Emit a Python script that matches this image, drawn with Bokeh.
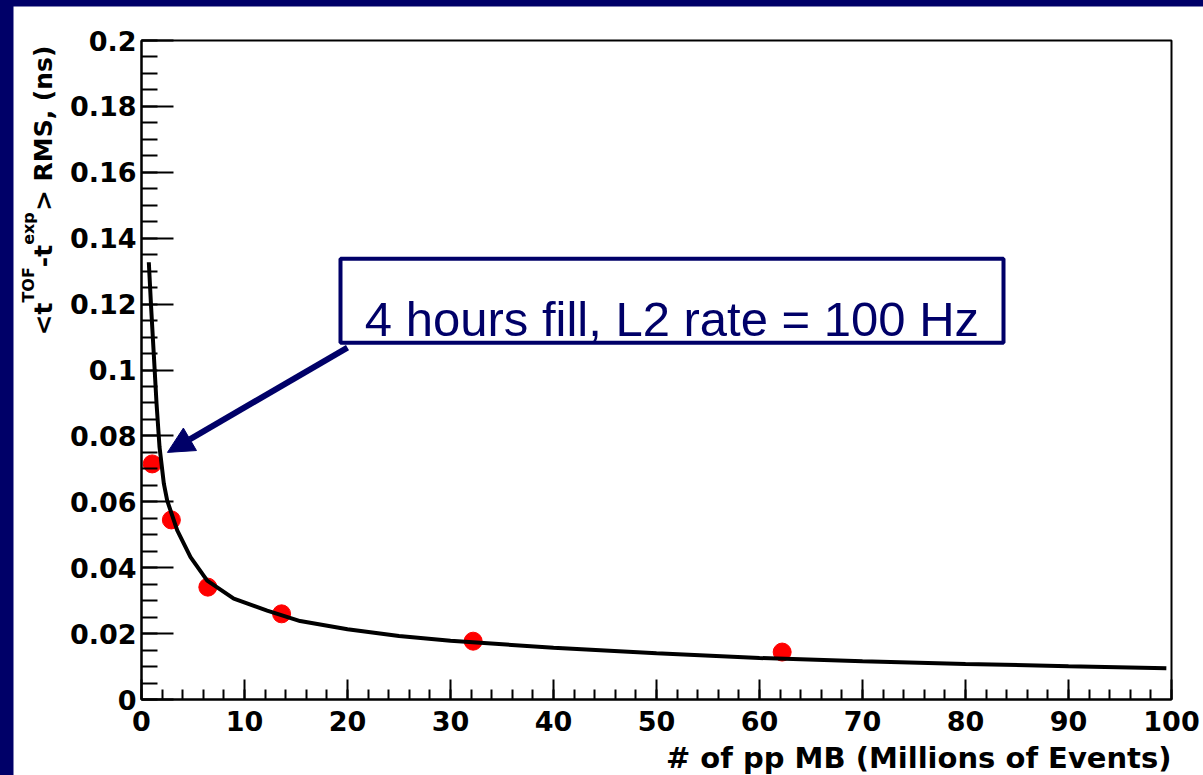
import math
from bokeh.plotting import figure
from bokeh.models import (Range1d, FixedTicker, Label, BoxAnnotation, Arrow,
                          NormalHead, GlobalInlineStyleSheet)
from bokeh.embed import file_html
from bokeh.resources import INLINE

# ---------------- data ----------------
points_x = [1.04, 2.9, 6.44, 13.6, 32.2, 62.2]
points_y = [0.0715, 0.0545, 0.0341, 0.0260, 0.0177, 0.0144]

curve_x = [0.71, 0.94, 1.19, 1.46, 1.75, 2.17, 2.49, 3.47, 4.76, 6.38, 8.96,
           12.2, 15.4, 20, 25, 30, 40, 50, 60, 70, 80, 90, 99.5]
curve_y = [0.1327, 0.1187, 0.105, 0.0898, 0.0766, 0.0655, 0.0604, 0.0513,
           0.0432, 0.0361, 0.0306, 0.0270, 0.0238, 0.0213, 0.0193, 0.0178,
           0.0157, 0.0140, 0.0126, 0.0116, 0.0108, 0.0101, 0.0095]

x_ticks = [0, 10, 20, 30, 40, 50, 60, 70, 80, 90, 100]
x_tick_labels = ["0", "10", "20", "30", "40", "50", "60", "70", "80", "90", "100"]
y_ticks = [0, 0.02, 0.04, 0.06, 0.08, 0.1, 0.12, 0.14, 0.16, 0.18, 0.2]
y_tick_labels = ["0", "0.02", "0.04", "0.06", "0.08", "0.1", "0.12", "0.14",
                 "0.16", "0.18", "0.2"]

x_title = "# of pp MB (Millions of Events)"
y_title_parts = ["<t", "TOF", "-t", "exp", "> RMS, (ns)"]
y_title_is_sup = [False, True, False, True, False]
annotation_text = "4 hours fill, L2 rate = 100 Hz"

X_MIN, X_MAX = 0, 100
Y_MIN, Y_MAX = 0, 0.2

NAVY = "#000068"
FONT = "DejaVu Sans"

# pixel geometry of the canvas (1190 x 769 placed at 13,6 on the page)
PX_PER_X = 10.3
PX_PER_Y = 3295.0
FRAME_LEFT_PX = 128      # x = 0 from canvas left
FRAME_BOTTOM_PX = 76     # y = 0 from canvas bottom
W, H = 1190, 769

x_lo = X_MIN - FRAME_LEFT_PX / PX_PER_X
x_hi = x_lo + W / PX_PER_X
y_lo = Y_MIN - FRAME_BOTTOM_PX / PX_PER_Y
y_hi = y_lo + H / PX_PER_Y

# ---------------- figure ----------------
p = figure(width=W, height=H, output_backend="svg", toolbar_location=None,
           x_range=Range1d(x_lo, x_hi), y_range=Range1d(y_lo, y_hi),
           min_border=0)
p.stylesheets = [GlobalInlineStyleSheet(css="html, body { background-color: %s; }" % NAVY)]
p.styles = {"margin-left": "13px", "margin-top": "6px"}
p.background_fill_color = "white"
p.border_fill_color = "white"
p.grid.visible = False
p.outline_line_color = None

xa = p.xaxis[0]
ya = p.yaxis[0]
xa.fixed_location = Y_MIN
ya.fixed_location = X_MIN
xa.bounds = (X_MIN, X_MAX)
ya.bounds = (Y_MIN, Y_MAX)
xa.ticker = FixedTicker(ticks=x_ticks, minor_ticks=[i * 2 for i in range(51)])
ya.ticker = FixedTicker(ticks=y_ticks, minor_ticks=[i * 0.005 for i in range(41)])
xa.major_label_overrides = dict(zip(x_ticks, x_tick_labels))
ya.major_label_overrides = dict(zip(y_ticks, y_tick_labels))

for ax in (xa, ya):
    ax.axis_line_color = "black"
    ax.axis_line_width = 2
    ax.major_tick_line_color = "black"
    ax.minor_tick_line_color = "black"
    ax.major_tick_line_width = 2
    ax.minor_tick_line_width = 2
    ax.major_tick_out = 0
    ax.minor_tick_out = 0
    ax.major_label_text_font = FONT
    ax.major_label_text_font_style = "bold"
    ax.major_label_text_font_size = "27px"
    ax.major_label_text_color = "black"

xa.major_tick_in = 20
xa.minor_tick_in = 10
xa.major_label_standoff = 11
ya.major_tick_in = 32
ya.minor_tick_in = 16
ya.major_label_standoff = 5

# frame box (top and right sides; left/bottom coincide with the axes)
p.add_layout(BoxAnnotation(left=X_MIN, right=X_MAX, bottom=Y_MIN, top=Y_MAX,
                           fill_alpha=0.0, line_color="black", line_width=2,
                           line_alpha=1.0))

# ---------------- data marks ----------------
p.scatter(points_x, points_y, size=18, color="#ff0000", line_color="#ff0000")
p.line(curve_x, curve_y, line_color="black", line_width=4)

# ---------------- axis titles ----------------
p.add_layout(Label(x=X_MAX, y=Y_MIN - 58 / PX_PER_Y, text=x_title,
                   text_align="right", text_baseline="alphabetic",
                   text_font=FONT, text_font_style="bold",
                   text_font_size="29px", text_color="black"))

# y title: rotated pieces, superscripts raised (to the left)
main_size, sup_size = 25, 16
adv = {"<t": 1.316, "TOF": 2.215, "-t": 0.894, "exp": 2.106, "> RMS, (ns)": 6.62}
pos_px = 699 - 335          # start of the title, px above y=0
for txt, sup in zip(y_title_parts, y_title_is_sup):
    fs = sup_size if sup else main_size
    base_px = 28 if sup else 43      # page x of the baseline
    p.add_layout(Label(x=X_MIN + (base_px - 141) / PX_PER_X,
                       y=Y_MIN + pos_px / PX_PER_Y,
                       text=txt, angle=math.pi / 2,
                       text_align="left", text_baseline="alphabetic",
                       text_font=FONT, text_font_style="bold",
                       text_font_size="%dpx" % fs, text_color="black"))
    pos_px += adv[txt] * fs

# ---------------- annotation box and arrow ----------------
p.add_layout(BoxAnnotation(left=19.32, right=83.69, bottom=0.1083, top=0.1338,
                           fill_color="white", fill_alpha=1.0,
                           line_color=NAVY, line_width=4, line_alpha=1.0))
p.add_layout(Label(x=51.5, y=0.1156, text=annotation_text, text_align="center",
                   text_baseline="alphabetic", text_font="Liberation Sans",
                   text_font_size="49px", text_color=NAVY))
p.add_layout(Arrow(end=NormalHead(size=26, fill_color=NAVY, line_color=NAVY),
                   x_start=20.0, y_start=0.1068, x_end=2.52, y_end=0.0750,
                   line_color=NAVY, line_width=6))

open("out.html", "w").write(file_html(p, INLINE))
